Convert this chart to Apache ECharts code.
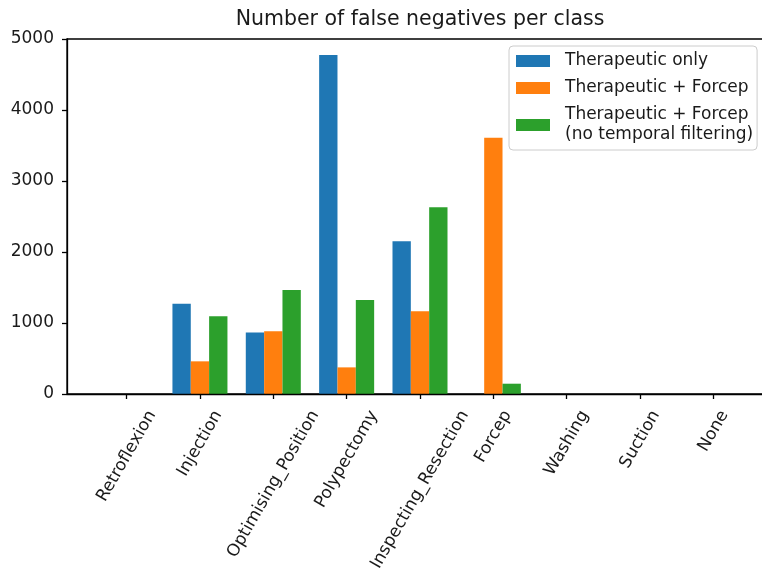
<!DOCTYPE html>
<html>
<head>
<meta charset="utf-8">
<script src="https://cdn.jsdelivr.net/npm/echarts@6/dist/echarts.min.js"></script>
<style>
  html, body { margin: 0; padding: 0; background: #fff; }
  #chart { width: 762px; height: 569px; }
</style>
</head>
<body>
<div id="chart"></div>
<script>
// Classes on the x axis
const categories = ['Retroflexion', 'Injection', 'Optimising_Position', 'Polypectomy',
  'Inspecting_Resection', 'Forcep', 'Washing', 'Suction', 'None'];

// False negatives per class for each model
const therapeuticOnly     = [0, 1270, 865, 4775, 2150, 0,    0, 0, 0];
const therapeuticForcep   = [0, 460,  885, 375,  1165, 3610, 0, 0, 0];
const noTemporalFiltering = [0, 1095, 1465, 1325, 2630, 145, 0, 0, 0];

const seriesNames = ['Therapeutic only', 'Therapeutic + Forcep',
  'Therapeutic + Forcep\n(no temporal filtering)'];
const seriesColors = ['#1f77b4', '#ff7f0e', '#2ca02c'];

// y axis ticks
const yMin = 0, yMax = 5000, yStep = 1000;

const FONT = '"DejaVu Sans", sans-serif';
const TEXT = '#1a1a1a';
const FS = 17;

// Axes box: the x range spans -0.8125 .. n-1+0.8125 category units
const AX_LEFT = 67, AX_TOP = 39, AX_W = 706, AX_H = 355;
const PAD = 0.8125;
const BAND = AX_W / (categories.length - 1 + 2 * PAD);
const BARS_LEFT = AX_LEFT + (PAD - 0.5) * BAND;
const BARS_W = BAND * categories.length;

// Rotated tick labels: bounding box centred under the tick, top a fixed gap below the axis
const LABEL_LH = 20, LABEL_TOP = 13, LABEL_MARGIN = -20;
const measure = document.createElement('canvas').getContext('2d');
measure.font = FS + 'px ' + FONT;
const c60 = Math.cos(Math.PI / 3), s60 = Math.sin(Math.PI / 3);
const labelRich = {};
categories.forEach((name, i) => {
  const L = measure.measureText(name).width;
  const X = L / 4 - (LABEL_LH * s60) / 2;
  const Y = LABEL_TOP - LABEL_MARGIN;
  const padTop = s60 * X + c60 * Y;
  const padRight = s60 * Y - c60 * X;
  labelRich['c' + i] = {
    fontSize: FS, fontFamily: FONT, color: TEXT,
    height: LABEL_LH, lineHeight: LABEL_LH + padTop,
    padding: [padTop, padRight, 0, 0]
  };
});

const chart = echarts.init(document.getElementById('chart'), null, { renderer: 'canvas' });

const valuesBySeries = [therapeuticOnly, therapeuticForcep, noTemporalFiltering];

chart.setOption({
  animation: false,
  backgroundColor: '#fff',
  textStyle: { fontFamily: FONT },
  title: {
    text: 'Number of false negatives per class',
    left: AX_LEFT + AX_W / 2,
    top: 7.5,
    padding: 0,
    textAlign: 'center',
    textStyle: { fontSize: 20.5, fontWeight: 'normal', color: TEXT, fontFamily: FONT, lineHeight: 24 }
  },
  legend: {
    orient: 'vertical',
    left: 509,
    top: 46,
    padding: [5, 4, 5, 7],
    itemGap: 7,
    itemWidth: 34,
    itemHeight: 12,
    icon: 'rect',
    backgroundColor: '#fff',
    borderColor: '#cccccc',
    borderWidth: 1,
    borderRadius: 4,
    selectedMode: false,
    textStyle: { fontSize: FS, fontFamily: FONT, color: TEXT, lineHeight: 20, padding: [0, 0, 0, 10] },
    data: seriesNames
  },
  grid: [
    { // frame with spines and y scale
      left: AX_LEFT, top: AX_TOP, width: AX_W, height: AX_H,
      show: true, borderColor: '#000', borderWidth: 1.3, backgroundColor: 'transparent',
      outerBoundsMode: 'none', containLabel: false
    },
    { // category bands for the bars
      left: BARS_LEFT, top: AX_TOP, width: BARS_W, height: AX_H,
      outerBoundsMode: 'none', containLabel: false
    }
  ],
  xAxis: [
    {
      gridIndex: 0, type: 'value', min: 0, max: 1, z: 10,
      axisLine: { show: true, onZero: false, lineStyle: { color: '#000', width: 1.3 } },
      axisTick: { show: false }, axisLabel: { show: false }, splitLine: { show: false }
    },
    {
      gridIndex: 1, type: 'category', data: categories, boundaryGap: true,
      axisLine: { show: false },
      axisTick: { show: true, alignWithLabel: true, interval: 0, length: 5, inside: false,
        lineStyle: { color: '#000', width: 1.3 } },
      axisLabel: {
        interval: 0, rotate: 60, margin: LABEL_MARGIN,
        align: 'right', verticalAlign: 'top',
        formatter: (v, i) => '{c' + i + '|' + v + '}',
        rich: labelRich
      },
      splitLine: { show: false }
    }
  ],
  yAxis: [
    {
      gridIndex: 0, type: 'value', min: yMin, max: yMax, interval: yStep, z: 10,
      axisLine: { show: true, lineStyle: { color: '#000', width: 1.3 } },
      axisTick: { show: true, length: 5, lineStyle: { color: '#000', width: 1.3 } },
      axisLabel: { fontSize: FS, fontFamily: FONT, color: TEXT, margin: 13,
        formatter: v => String(v) },
      splitLine: { show: false }
    },
    {
      gridIndex: 1, type: 'value', min: yMin, max: yMax, interval: yStep, show: false,
      splitLine: { show: false }
    }
  ],
  series: valuesBySeries.map((vals, k) => ({
    name: seriesNames[k],
    type: 'bar',
    xAxisIndex: 1,
    yAxisIndex: 1,
    data: vals,
    barGap: '0%',
    barCategoryGap: '25%',
    itemStyle: { color: seriesColors[k] },
    emphasis: { disabled: true }
  }))
});
</script>
</body>
</html>
